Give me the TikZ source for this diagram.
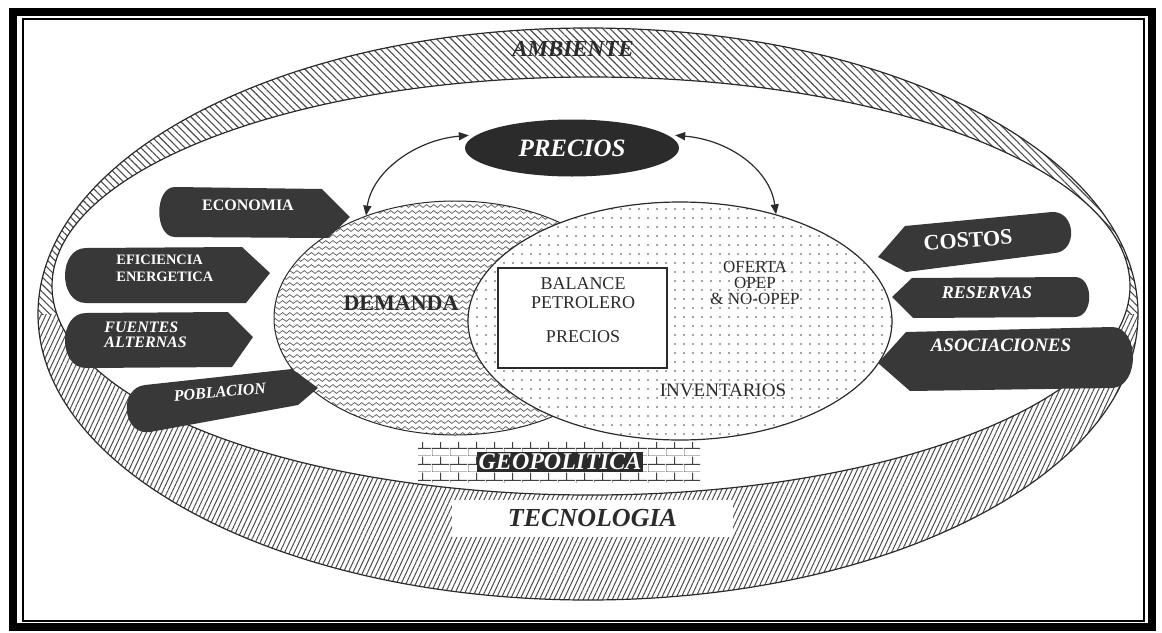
\documentclass[tikz,border=0pt]{standalone}
\usepackage{fontspec}
\setmainfont{Liberation Serif}
\usetikzlibrary{shapes.geometric,arrows.meta,patterns,patterns.meta,positioning}

\definecolor{tinta}{HTML}{2B2B2B}
\definecolor{factorgris}{HTML}{383838}

\tikzdeclarepattern{
  name=ondas,
  type=uncolored,
  bounding box={(0pt,-1.2pt) and (3.6pt,1.2pt)},
  tile size={(3.6pt,3pt)},
  code={
    \draw[line width=0.35pt] (0pt,0pt) sin (0.9pt,0.7pt) cos (1.8pt,0pt) sin (2.7pt,-0.7pt) cos (3.6pt,0pt);
  }
}
\tikzdeclarepattern{
  name=ladrillos,
  type=uncolored,
  bounding box={(0pt,0pt) and (9pt,8pt)},
  tile size={(9pt,8pt)},
  code={
    \draw[line width=0.5pt] (0pt,0pt) -- (9pt,0pt) (0pt,4pt) -- (9pt,4pt)
      (0pt,0pt) -- (0pt,4pt) (4.5pt,4pt) -- (4.5pt,8pt);
  }
}

\tikzset{
  bandaarriba/.style={pattern={Lines[angle=-45,distance=2.6pt,line width=0.55pt]}, pattern color=black!70},
  bandaabajo/.style={pattern={Lines[angle=65,distance=2.2pt,line width=0.5pt]}, pattern color=black!70},
  factorfill/.style={fill=factorgris},
  factortext/.style={text=white, inner sep=0pt, align=left},
  texto/.style={text=tinta, inner sep=0pt, align=center},
  bidir/.style={<->, >={Triangle[length=5pt,width=4pt]}, line width=0.6pt, draw=tinta}
}

\begin{document}
\begin{tikzpicture}[x=0.5pt, y=-0.5pt]
    \useasboundingbox (0,0) rectangle (1162,632);
    \fill[white] (0,0) rectangle (1162,632);

    % Marco
    \draw[line width=4pt] (13,12) rectangle (1152,627);
    \draw[line width=1pt] (23,19) rectangle (1144,621);

    % Banda exterior: ambiente arriba, tecnologia abajo
    \begin{scope}
        \clip (0,0) rectangle (1162,314);
        \path[bandaarriba, even odd rule] (588,314) ellipse [x radius=275pt, y radius=143pt]
            (591,286) ellipse [x radius=269.5pt, y radius=104.5pt];
    \end{scope}
    \begin{scope}
        \clip (0,314) rectangle (1162,632);
        \path[bandaabajo, even odd rule] (588,314) ellipse [x radius=275pt, y radius=143pt]
            (591,286) ellipse [x radius=269.5pt, y radius=104.5pt];
    \end{scope}
    \draw[line width=0.6pt, tinta] (588,314) ellipse [x radius=275pt, y radius=143pt];
    \draw[line width=0.6pt, tinta] (591,286) ellipse [x radius=269.5pt, y radius=104.5pt];

    \node[texto, font=\fontsize{11.5}{12}\selectfont\bfseries\itshape] (ambiente) at (573,49) {AMBIENTE};

    % Demanda y oferta
    \node[ellipse, draw=tinta, line width=0.5pt, minimum width=181pt, minimum height=117pt,
        pattern=ondas, pattern color=black!65] (demanda) at (455,318) {};
    \node[ellipse, draw=tinta, line width=0.6pt, minimum width=212pt, minimum height=119pt,
        preaction={fill=white}, pattern={Dots[distance=4.5pt,radius=0.4pt]}, pattern color=black!70] (oferta) at (680,321) {};

    \node[texto, font=\fontsize{11}{12}\selectfont\bfseries] (demandatxt) at (401,303) {DEMANDA};
    \node[texto, font=\fontsize{8.5}{8}\selectfont] (ofertatxt) at (755,283) {OFERTA\\OPEP\\\& NO-OPEP};
    \node[texto, font=\fontsize{9.5}{10}\selectfont] (inventarios) at (723,390) {INVENTARIOS};

    % Balance petrolero
    \node[draw=tinta, line width=0.6pt, fill=white, minimum width=84.5pt, minimum height=50pt] (balance) at (582.5,318) {};
    \node[texto, font=\fontsize{9}{9.5}\selectfont] (balancetxt) at (583,293) {BALANCE\\PETROLERO};
    \node[texto, font=\fontsize{9}{9.5}\selectfont] (balprecios) at (583,337) {PRECIOS};

    % Precios
    \node[ellipse, fill=tinta, text=white, minimum width=107pt, minimum height=28.5pt, inner sep=0pt,
        font=\fontsize{12.5}{13}\selectfont\bfseries\itshape] (precios) at (572,148) {PRECIOS};
    \draw[bidir, shorten <=4pt] (precios.172) .. controls (415,140) and (372,172) .. (demanda.131);
    \draw[bidir, shorten <=4pt] (precios.8) .. controls (730,140) and (770,170) .. (oferta.48);

    % Factores de la demanda
    \path[factorfill] (175,187) -- (322,189) -- (350,217) -- (328,238) -- (175,237)
        .. controls (154,237) and (154,187) .. (175,187) -- cycle;
    \path[factorfill] (86,248) -- (242,247) -- (270,273) -- (246,303) -- (86,303)
        .. controls (58,303) and (58,248) .. (86,248) -- cycle;
    \path[factorfill] (86,313) -- (228,312) -- (253,337) -- (232,367) -- (86,368)
        .. controls (58,368) and (58,313) .. (86,313) -- cycle;
    \path[factorfill] (145,385) -- (292,369) -- (318,388) -- (298,405) -- (150,432)
        .. controls (122,436) and (118,388) .. (145,385) -- cycle;

    \node[factortext, font=\fontsize{8}{9}\selectfont\bfseries] (economia) at (248,205) {ECONOMIA};
    \node[factortext, anchor=west, font=\fontsize{7.2}{8.5}\selectfont\bfseries] (eficiencia) at (116,268) {EFICIENCIA\\ENERGETICA};
    \node[factortext, anchor=west, font=\fontsize{8}{7.5}\selectfont\bfseries\itshape] (fuentes) at (104,335) {FUENTES\\ALTERNAS};
    \node[factortext, rotate=5, font=\fontsize{8}{9}\selectfont\bfseries\itshape] (poblacion) at (220,392) {POBLACION};

    % Factores de la oferta
    \path[factorfill] (878,257) -- (905,226) -- (1052,212)
        .. controls (1076,211) and (1078,251) .. (1055,253) -- (906,272) -- cycle;
    \path[factorfill] (892,297) -- (912,278) -- (1075,277)
        .. controls (1094,277) and (1094,317) .. (1075,317) -- (913,318) -- cycle;
    \path[factorfill] (878,363) -- (906,332) -- (1112,327)
        .. controls (1140,327) and (1140,387) .. (1112,388) -- (910,391) -- cycle;

    \node[factortext, rotate=4, font=\fontsize{11}{12}\selectfont\bfseries] (costos) at (968,240) {COSTOS};
    \node[factortext, font=\fontsize{9}{10}\selectfont\bfseries\itshape] (reservas) at (987,293) {RESERVAS};
    \node[factortext, font=\fontsize{9.5}{10}\selectfont\bfseries\itshape] (asociaciones) at (1001,345) {ASOCIACIONES};

    % Geopolitica y tecnologia
    \node[pattern=ladrillos, pattern color=black!75, minimum width=141pt, minimum height=20pt, inner sep=0pt] (geo) at (559,462) {};
    \node[fill=tinta, text=white, inner sep=1pt, font=\fontsize{12}{12}\selectfont\bfseries\itshape] (geopolitica) at (560,462) {GEOPOLITICA};
    \node[fill=white, text=tinta, minimum width=140.5pt, minimum height=18.5pt, inner sep=0pt,
        font=\fontsize{13}{13}\selectfont\bfseries\itshape] (tecnologia) at (592.5,518) {TECNOLOGIA};
\end{tikzpicture}
\end{document}
